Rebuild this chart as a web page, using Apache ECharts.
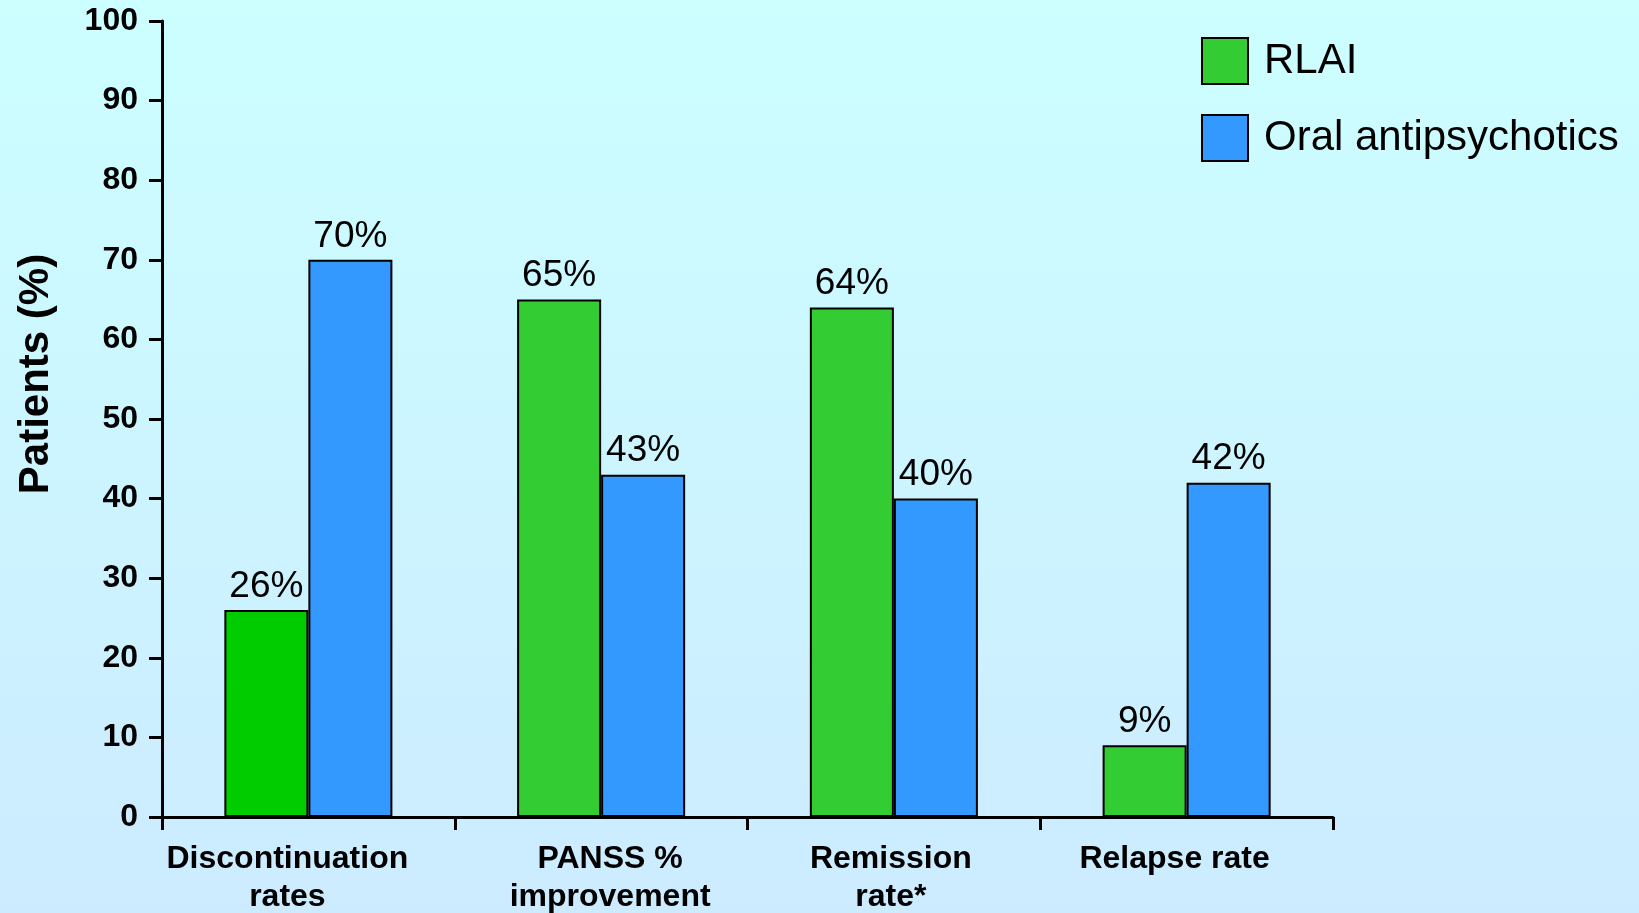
<!DOCTYPE html>
<html>
<head>
<meta charset="utf-8">
<script src="https://cdn.jsdelivr.net/npm/echarts@6/dist/echarts.min.js"></script>
<style>
  html, body { margin: 0; padding: 0; }
  #chart { width: 1639px; height: 913px; }
</style>
</head>
<body>
<div id="chart"></div>
<script>
// Outcome measures compared between the two treatment groups
const categories = ['Discontinuation\nrates', 'PANSS %\nimprovement', 'Remission\nrate*', 'Relapse rate'];
const rlaiValues = [26, 65, 64, 9];
const oralValues = [70, 43, 40, 42];
const yTicks = { min: 0, max: 100, interval: 10 };
const seriesNames = ['RLAI', 'Oral antipsychotics'];

const FONT = 'Liberation Sans, Arial, sans-serif';
const GREEN = '#33CC33';
const GREEN_FIRST = '#00CC00';
const BLUE = '#3399FF';

// horizontal nudge (px) of each category label relative to its band centre
const labelShift = [-21, 9, -3, -12];

const chart = echarts.init(document.getElementById('chart'), null, { renderer: 'canvas' });

const labelStyle = {
  show: true,
  position: 'top',
  distance: 5,
  formatter: p => p.value + '%',
  fontFamily: FONT,
  fontSize: 37,
  color: '#000'
};

const xAxisData = categories.map((c, i) => {
  const s = labelShift[i];
  return {
    value: c,
    textStyle: { padding: s < 0 ? [0, -2 * s, 0, 0] : [0, 0, 0, 2 * s] }
  };
});

chart.setOption({
  backgroundColor: {
    type: 'linear', x: 0, y: 0, x2: 0, y2: 1,
    colorStops: [
      { offset: 0, color: '#CCFFFF' },
      { offset: 1, color: '#CCEBFF' }
    ]
  },
  animation: false,
  grid: { left: 162, right: 306, top: 21, bottom: 96, outerBoundsMode: 'none', containLabel: false },
  legend: {
    orient: 'vertical',
    left: 1196,
    top: 32,
    itemWidth: 46,
    itemHeight: 46,
    itemGap: 29,
    icon: 'rect',
    data: seriesNames,
    textStyle: { fontFamily: FONT, fontSize: 42, color: '#000', padding: [0, 0, 0, 11] }
  },
  graphic: [{
    type: 'text',
    x: 36,
    y: 374,
    rotation: Math.PI / 2,
    style: {
      text: 'Patients (%)',
      font: 'bold 42px ' + FONT,
      fill: '#000',
      align: 'center',
      verticalAlign: 'middle'
    }
  }],
  xAxis: {
    type: 'category',
    data: xAxisData,
    axisLine: { lineStyle: { color: '#000', width: 3 } },
    axisTick: { show: true, alignWithLabel: false, length: 13, lineStyle: { color: '#000', width: 3 } },
    axisLabel: {
      margin: 23,
      fontFamily: FONT,
      fontSize: 32,
      fontWeight: 'bold',
      color: '#000',
      lineHeight: 38,
      interval: 0
    }
  },
  yAxis: {
    type: 'value',
    min: yTicks.min,
    max: yTicks.max,
    interval: yTicks.interval,
    splitLine: { show: false },
    axisLine: { show: true, lineStyle: { color: '#000', width: 3 } },
    axisTick: { show: true, length: 13, lineStyle: { color: '#000', width: 3 } },
    axisLabel: {
      margin: 24,
      fontFamily: FONT,
      fontSize: 32,
      fontWeight: 'bold',
      color: '#000'
    }
  },
  series: [
    {
      name: seriesNames[0],
      type: 'bar',
      barGap: '0%',
      barCategoryGap: '42.6%',
      itemStyle: { color: GREEN, borderColor: '#000', borderWidth: 2 },
      label: labelStyle,
      data: rlaiValues.map((v, i) => i === 0 ? { value: v, itemStyle: { color: GREEN_FIRST } } : v)
    },
    {
      name: seriesNames[1],
      type: 'bar',
      itemStyle: { color: BLUE, borderColor: '#000', borderWidth: 2 },
      label: labelStyle,
      data: oralValues
    }
  ]
});
</script>
</body>
</html>
